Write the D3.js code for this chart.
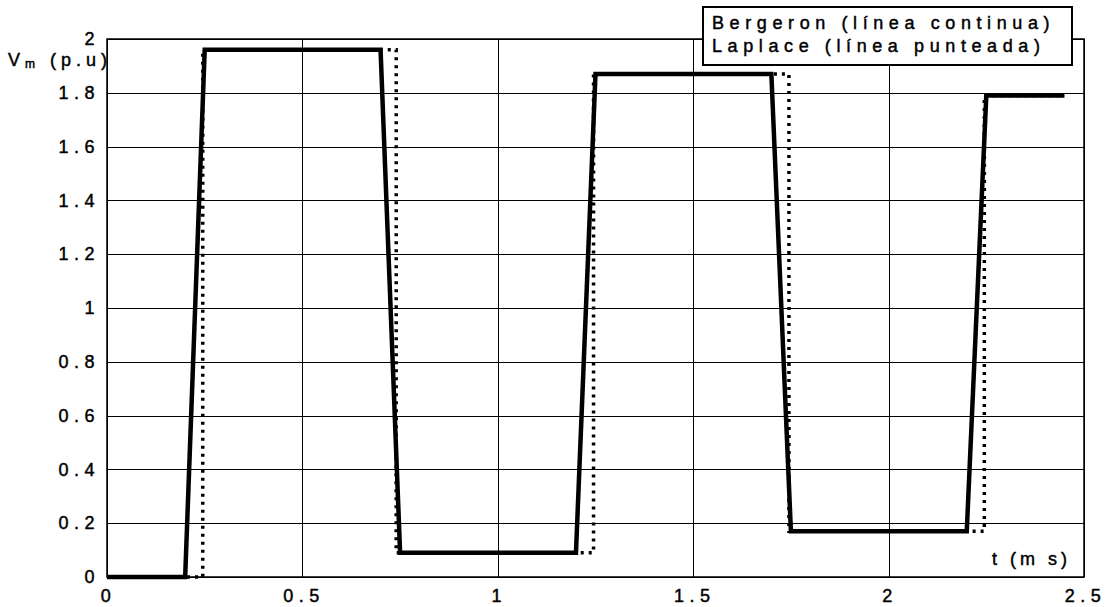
<!DOCTYPE html>
<html>
<head>
<meta charset="utf-8">
<script src="https://cdn.jsdelivr.net/npm/d3@7"></script>
<style>
  body { margin: 0; background: #fff; }
  svg { display: block; }
  text { font-family: "Liberation Sans", Arial, sans-serif; fill: #000; stroke: #000; stroke-width: 0.45px; }
</style>
</head>
<body>
<svg id="chart" width="1112" height="607"></svg>
<script>
// Voltage at the receiving end (p.u.) versus time (ms)
const bergeronT = [0, 0.2, 0.25, 0.7, 0.75, 1.2, 1.25, 1.7, 1.75, 2.2, 2.25, 2.45];
const bergeronV = [0, 0, 1.96, 1.96, 0.09, 0.09, 1.87, 1.87, 0.17, 0.17, 1.79, 1.79];
const laplaceT = [0, 0.245, 0.245, 0.74, 0.74, 1.245, 1.245, 1.745, 1.745, 2.245, 2.245, 2.45];
const laplaceV = [0, 0, 1.96, 1.96, 0.09, 0.09, 1.87, 1.87, 0.17, 0.17, 1.79, 1.79];
const xTicks = [0, 0.5, 1, 1.5, 2, 2.5];
const yTicks = [0, 0.2, 0.4, 0.6, 0.8, 1, 1.2, 1.4, 1.6, 1.8, 2];
const legendLines = ["Bergeron (línea continua)", "Laplace (línea punteada)"];

const svg = d3.select("#chart");
const plotLeft = 107, plotRight = 1084, plotTop = 39, plotBottom = 577;

const x = d3.scaleLinear().domain([0, 2.5]).range([plotLeft, plotRight]);
const y = d3.scaleLinear().domain([0, 2]).range([plotBottom, plotTop]);

// grid
const grid = svg.append("g").attr("stroke", "#000").attr("stroke-width", 1);
grid.selectAll("line.h").data(yTicks).join("line")
  .attr("x1", plotLeft).attr("x2", plotRight)
  .attr("y1", d => Math.round(y(d)) + 0.5).attr("y2", d => Math.round(y(d)) + 0.5);
grid.selectAll("line.v").data(xTicks).join("line")
  .attr("y1", plotTop).attr("y2", plotBottom)
  .attr("x1", d => Math.round(x(d)) + 0.5).attr("x2", d => Math.round(x(d)) + 0.5);

// frame
svg.append("rect").attr("x", plotLeft).attr("y", plotTop)
  .attr("width", plotRight - plotLeft).attr("height", plotBottom - plotTop)
  .attr("fill", "none").attr("stroke", "#000").attr("stroke-width", 1.5);

// tick labels through d3 axes
const fmt = d => String(d);
const yAxis = svg.append("g").attr("transform", `translate(${plotLeft},0)`)
  .call(d3.axisLeft(y).tickValues(yTicks).tickFormat(fmt).tickSize(0).tickPadding(9));
const xAxis = svg.append("g").attr("transform", `translate(0,${plotBottom})`)
  .call(d3.axisBottom(x).tickValues(xTicks).tickFormat(fmt).tickSize(0).tickPadding(12));
[yAxis, xAxis].forEach(a => {
  a.select(".domain").remove();
  a.selectAll("text")
    .attr("fill", "#000")
    .style("font-family", "'Liberation Sans', Arial, sans-serif")
    .style("font-size", "18px")
    .style("letter-spacing", "5.5px");
});
yAxis.selectAll("text").attr("dx", "2px");
xAxis.selectAll("text").attr("dx", "1px");

// series
const line = d3.line().x(d => x(d[0])).y(d => y(d[1]));
const bergeron = bergeronT.map((t, i) => [t, bergeronV[i]]);
const laplace = laplaceT.map((t, i) => [t, laplaceV[i]]);

svg.append("path").datum(laplace).attr("d", line)
  .attr("fill", "none").attr("stroke", "#000").attr("stroke-width", 3.5)
  .attr("stroke-dasharray", "3,5");
svg.append("path").datum(bergeron).attr("d", line)
  .attr("fill", "none").attr("stroke", "#000").attr("stroke-width", 4.5)
  .attr("stroke-linejoin", "miter");

// axis titles
const yTitle = svg.append("text").attr("x", 8).attr("y", 66)
  .style("font-size", "18px").style("letter-spacing", "5px");
yTitle.append("tspan").text("V");
yTitle.append("tspan").text("m").style("font-size", "12px").attr("dy", 2);
yTitle.append("tspan").text(" (p.u)").attr("dy", -2);

svg.append("text").attr("x", 992).attr("y", 565)
  .style("font-size", "18px").style("letter-spacing", "4px")
  .text("t (m s)");

// legend
const lg = svg.append("g");
lg.append("rect").attr("x", 703).attr("y", 7).attr("width", 369).attr("height", 58)
  .attr("fill", "#fff").attr("stroke", "#000").attr("stroke-width", 2);
lg.selectAll("text").data(legendLines).join("text")
  .attr("x", 712).attr("y", (d, i) => 29 + i * 23)
  .style("font-size", "18px").style("letter-spacing", "5.6px")
  .text(d => d);
</script>
</body>
</html>
